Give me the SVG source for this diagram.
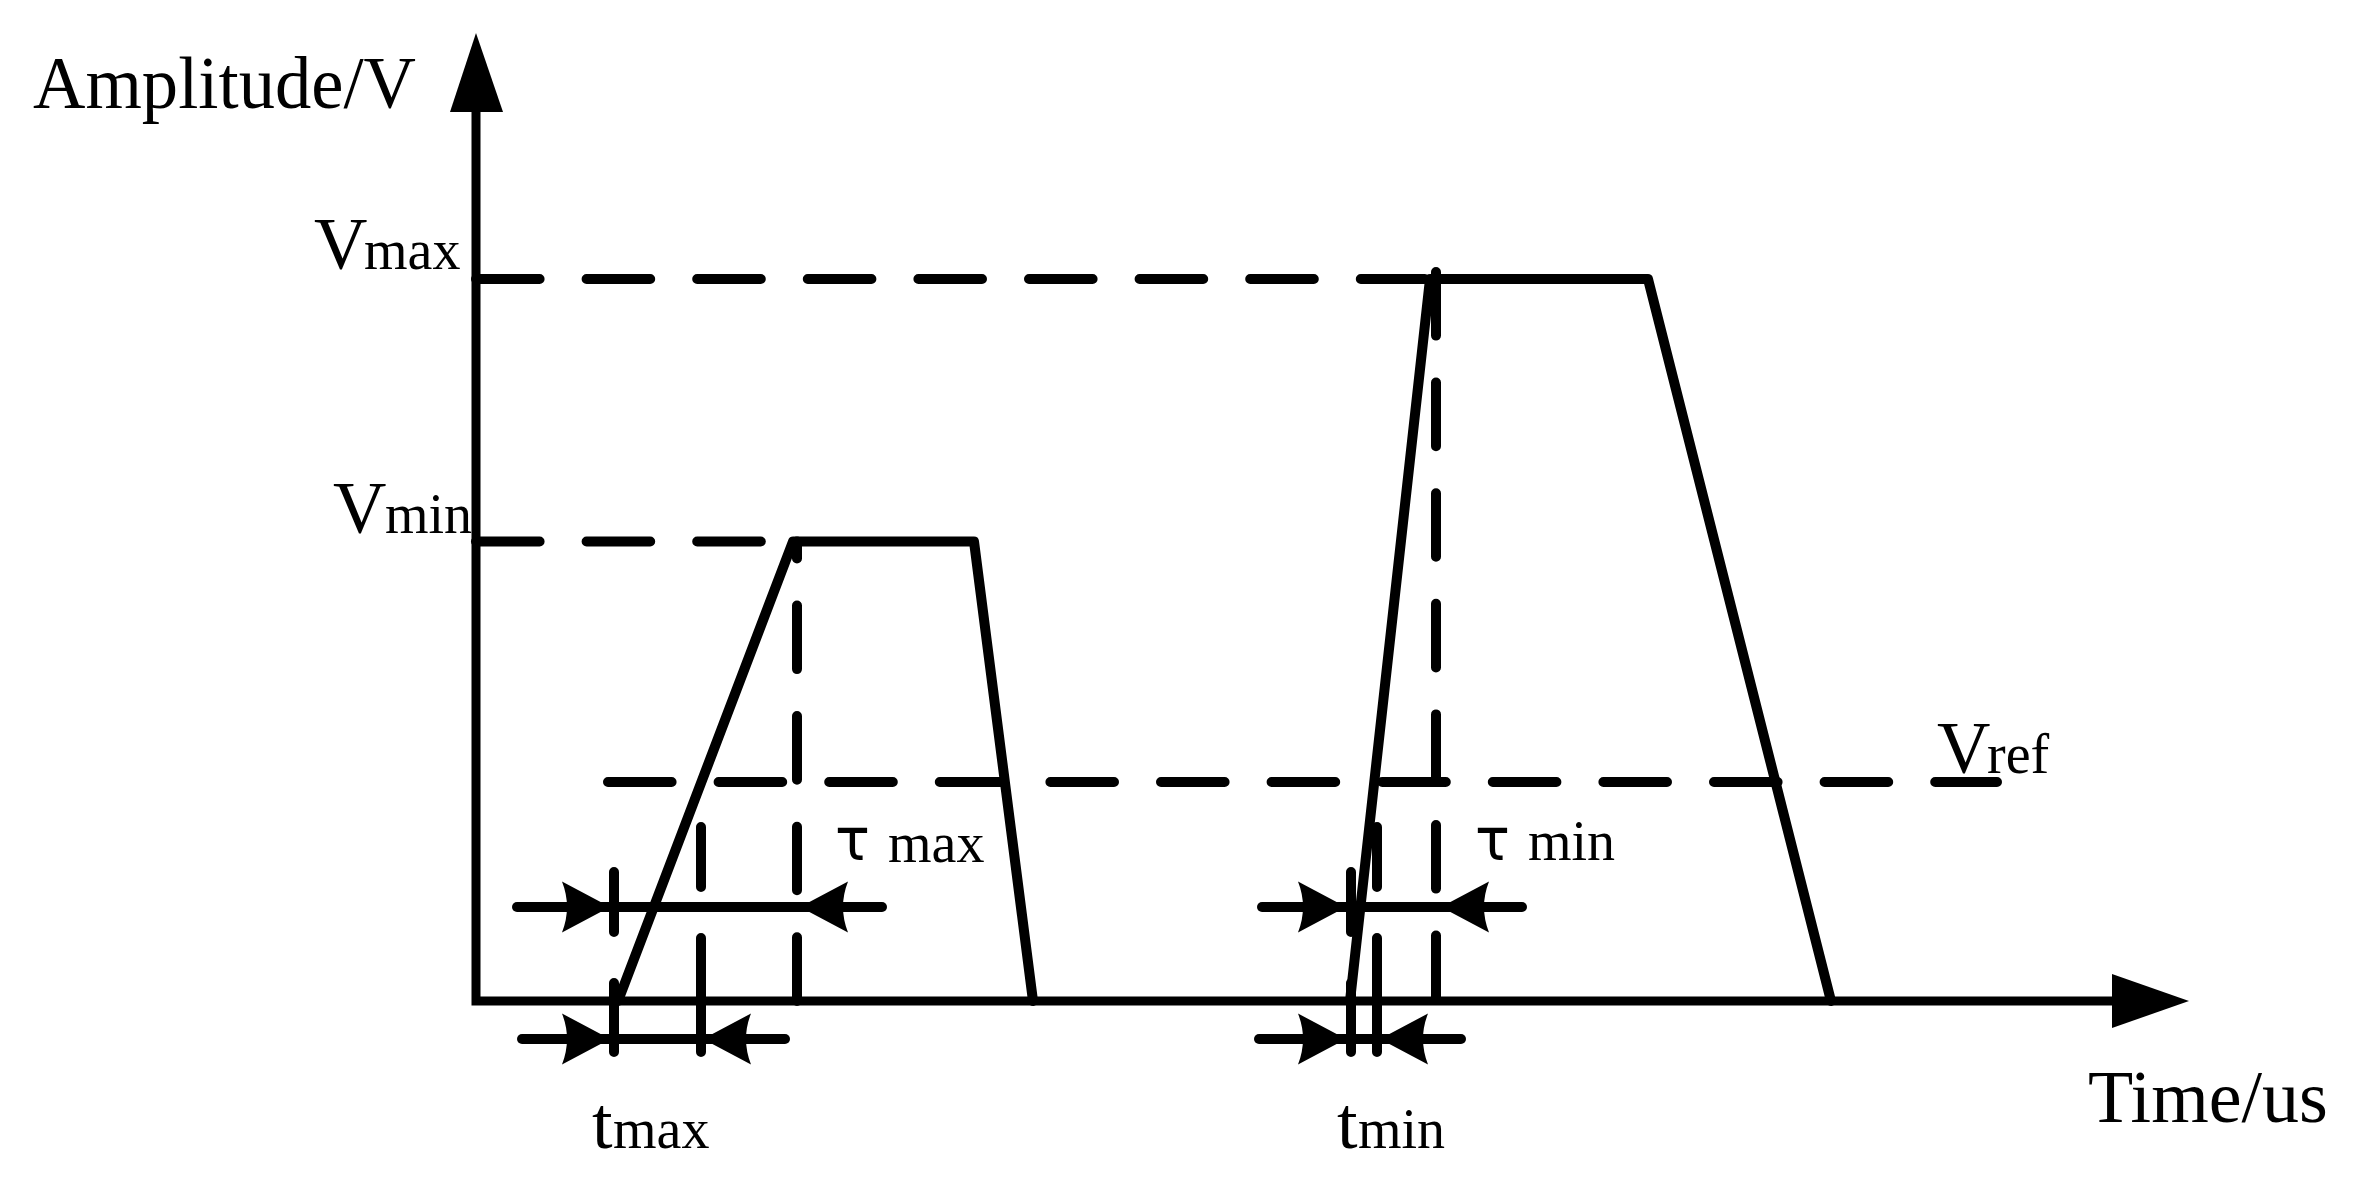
<svg xmlns="http://www.w3.org/2000/svg" width="2359" height="1186" viewBox="0 0 2359 1186">
<style>
.ax{fill:none;stroke:#000;stroke-width:9;stroke-linejoin:miter}
.pulse{fill:none;stroke:#000;stroke-width:10;stroke-linejoin:round;stroke-linecap:round}
.dash{fill:none;stroke:#000;stroke-width:10;stroke-linecap:round;stroke-dasharray:63.6 47}
.seg{fill:none;stroke:#000;stroke-width:10;stroke-linecap:round}
text{font-family:"Liberation Serif","Times New Roman",serif;fill:#000}
.big{font-size:74px}
.sub{font-size:56px}
.tau{font-family:"DejaVu Sans",sans-serif;font-size:58px}
</style>
<defs>
<path id="ah" d="M0,0 L-48,-25.5 Q-38,0 -48,25.5 Z" fill="#000"/>
</defs>
<g id="axes">
<path class="ax" d="M476,112 V1001 H2112"/>
<path d="M476,33 L450,112 L503,112 Z" fill="#000"/>
<path d="M2189,1001 L2112,974 L2112,1028 Z" fill="#000"/>
</g>
<g id="levels">
<path class="dash" d="M476,279 H1430"/>
<path class="dash" d="M476,541.5 H793"/>
<path class="dash" d="M608,782 H1997"/>
<path class="dash" d="M1436,272 V1001"/>
<path class="dash" style="stroke-dashoffset:46.6" d="M797,541.5 V1001"/>
</g>
<g id="ticks">
<path class="seg" d="M614,872 V932 M614,983 V1052"/>
<path class="seg" d="M701,827 V887 M701,938 V1052"/>
<path class="seg" d="M1351,872 V932 M1351,983 V1052"/>
<path class="seg" d="M1377,827 V887 M1377,938 V1052"/>
</g>
<g id="pulses">
<path class="pulse" d="M618,1001 L793,541.5 L974,541.5 L1033,1001"/>
<path class="pulse" d="M1350,1001 L1430,279 L1648,279 L1831,1001"/>
</g>
<g id="dimensions">
<path class="seg" d="M517,907 H882"/>
<path class="seg" d="M522,1039 H785"/>
<path class="seg" d="M1262,907 H1522"/>
<path class="seg" d="M1259,1039 H1461"/>
<use href="#ah" transform="translate(610,907)"/>
<use href="#ah" transform="translate(800,907) scale(-1,1)"/>
<use href="#ah" transform="translate(610,1039)"/>
<use href="#ah" transform="translate(703,1039) scale(-1,1)"/>
<use href="#ah" transform="translate(1346,907)"/>
<use href="#ah" transform="translate(1441,907) scale(-1,1)"/>
<use href="#ah" transform="translate(1346,1039)"/>
<use href="#ah" transform="translate(1380,1039) scale(-1,1)"/>
</g>
<g id="labels">
<text class="big" x="33" y="108" textLength="383" lengthAdjust="spacingAndGlyphs">Amplitude/V</text>
<text y="269"><tspan class="big" x="314">V</tspan><tspan class="sub" x="364">max</tspan></text>
<text y="533"><tspan class="big" x="333">V</tspan><tspan class="sub" x="385">min</tspan></text>
<text y="773"><tspan class="big" x="1937">V</tspan><tspan class="sub" x="1987">ref</tspan></text>
<text class="big" x="2088" y="1122">Time/us</text>
<text y="1148"><tspan class="big" x="592">t</tspan><tspan class="sub" x="613">max</tspan></text>
<text y="1148"><tspan class="big" x="1337">t</tspan><tspan class="sub" x="1358">min</tspan></text>
<text y="860"><tspan class="tau" x="835">τ</tspan><tspan class="sub" x="888" y="862">max</tspan></text>
<text y="860"><tspan class="tau" x="1475">τ</tspan><tspan class="sub" x="1528">min</tspan></text>
</g>
</svg>
